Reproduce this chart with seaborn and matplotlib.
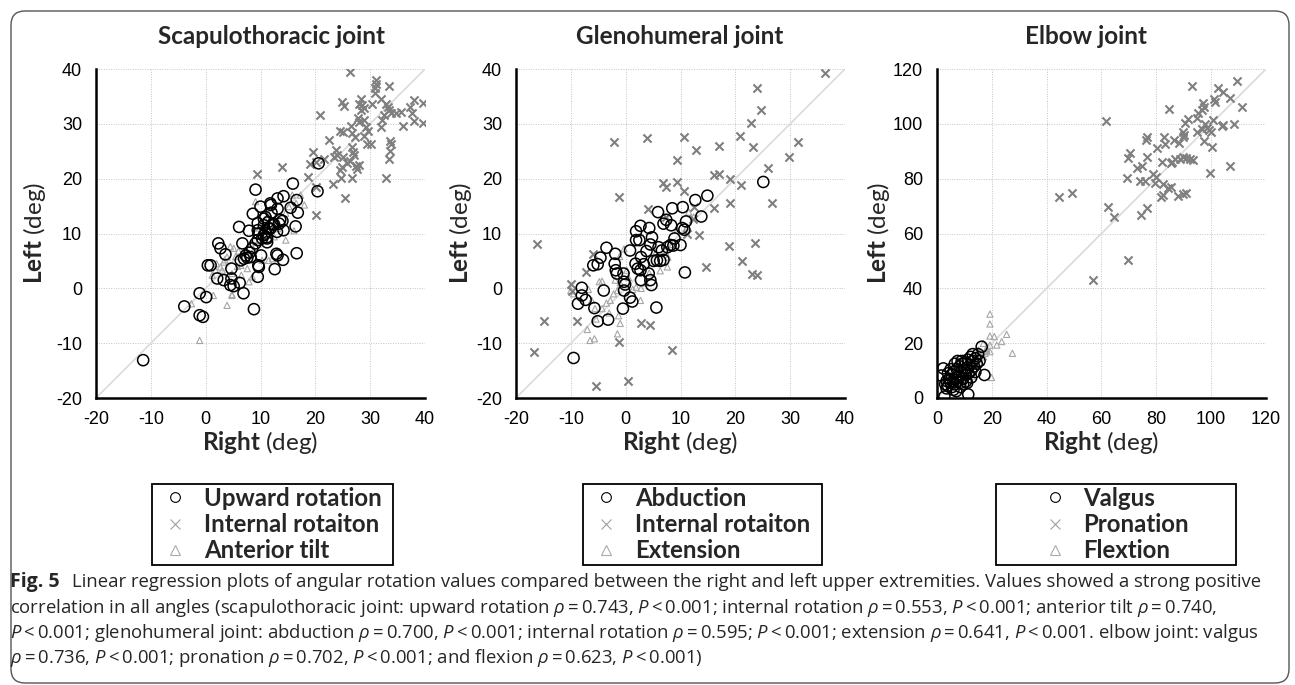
import matplotlib
matplotlib.use("Agg")
import matplotlib.pyplot as plt
import numpy as np
import seaborn as sns
from matplotlib.lines import Line2D
from matplotlib.patches import FancyBboxPatch, Rectangle
from matplotlib.transforms import IdentityTransform

# --- data (Right deg, Left deg) ---
SCAP_UPWARD = [
    (-11.4, -13.1), (-3.9, -3.3), (-1.1, -0.9), (0.1, -1.6), (-1.1, -4.9), (-0.5, -5.2),
    (0.4, 4.2), (0.9, 4.2), (2.3, 8.2), (2.7, 7.3), (3.6, 6.2), (2.1, 1.8), (3.3, 1.5),
    (4.7, 3.6), (4.7, 1.8), (4.5, 0.6), (5.1, 0.4), (6.2, 1.0), (6.9, -0.9), (8.8, -3.8),
    (6.1, 11.2), (6.7, 8.2), (7.9, 10.5), (6.4, 5.1), (7.0, 5.4), (7.6, 5.6), (8.2, 5.7),
    (8.5, 7.3), (9.1, 8.2), (9.5, 8.8), (8.6, 13.6), (9.1, 18.0), (9.6, 10.0), (9.5, 11.9),
    (9.6, 4.2), (9.5, 2.1), (9.7, 3.9), (10.0, 14.9), (10.6, 12.7), (10.9, 10.0), (11.1, 9.3),
    (11.2, 8.4), (10.3, 9.1), (11.5, 10.9), (11.9, 15.2), (12.0, 13.8), (12.5, 11.6),
    (13.1, 16.4), (13.1, 14.5), (13.6, 12.5), (14.0, 12.3), (14.2, 10.6), (14.2, 16.8),
    (12.9, 6.3), (12.6, 3.5), (14.1, 5.2), (13.1, 6.0), (15.9, 19.1), (15.5, 14.7),
    (16.6, 16.1), (16.8, 13.8), (16.4, 11.3), (16.6, 6.4), (20.4, 17.7), (20.6, 22.8),
    (10.9, 13.0), (11.4, 12.1), (11.8, 10.9), (11.2, 9.1), (10.1, 6.0), (11.8, 15.5),
    (13.4, 11.8), (13.0, 10.3), (10.6, 11.5), (9.5, 10.6), (10.6, 9.7), (12.2, 11.7),
    (8.0, 6.5), (7.3, 6.0),
]
SCAP_INTERNAL = [
    (26.3, 39.4), (31.0, 38.0), (31.1, 37.3), (30.8, 36.5), (30.9, 35.7), (33.5, 36.9),
    (28.3, 34.5), (28.0, 33.7), (28.6, 33.4), (28.9, 32.8), (28.3, 32.5), (30.4, 33.7),
    (31.9, 34.6), (32.8, 33.7), (33.2, 33.1), (33.5, 32.5), (33.8, 31.9), (34.7, 31.9),
    (35.6, 32.2), (37.2, 33.1), (38.0, 34.3), (39.7, 33.8), (37.7, 31.9), (38.0, 30.5),
    (39.6, 30.2), (35.9, 29.6), (32.5, 31.6), (32.2, 30.7), (31.9, 29.5), (24.9, 34.0),
    (25.2, 33.2), (20.8, 31.7), (28.9, 30.7), (29.3, 29.5), (29.6, 28.7), (28.0, 30.4),
    (27.7, 31.0), (24.5, 28.7), (25.0, 28.6), (26.5, 29.6), (26.6, 28.4), (27.3, 27.6),
    (28.9, 27.8), (29.4, 26.3), (30.1, 26.4), (33.6, 26.8), (33.8, 26.4), (33.6, 25.0),
    (33.5, 23.5), (32.9, 20.2), (22.5, 27.0), (23.7, 25.2), (24.0, 24.3), (23.4, 24.0),
    (25.1, 23.9), (26.6, 25.7), (26.8, 24.9), (27.1, 24.4), (24.8, 22.2), (24.5, 21.6),
    (25.7, 22.8), (26.3, 23.3), (27.4, 22.3), (28.0, 22.5), (27.6, 21.7), (26.6, 20.2),
    (24.6, 20.2), (23.2, 19.0), (25.5, 16.4), (19.6, 24.9), (19.0, 22.6), (18.7, 20.3),
    (21.5, 23.5), (20.1, 23.1), (14.0, 22.1), (9.4, 20.8), (20.2, 13.4), (20.2, 18.5),
]
SCAP_TILT = [
    (9.1, 15.8), (15.8, 17.0), (17.3, 17.0), (18.0, 15.2), (14.6, 8.8), (16.1, 10.5),
    (4.5, 7.6), (5.1, 7.3), (3.9, 5.7), (3.3, 4.8), (2.7, 3.9), (1.2, 2.4), (1.8, 3.3),
    (3.0, 3.3), (5.8, 4.0), (6.5, 2.4), (7.9, 1.2), (8.5, 2.1), (10.3, 5.1), (11.5, 5.1),
    (12.2, 5.4), (1.4, -1.3), (4.8, -1.3), (3.9, -3.1), (-2.6, -2.8), (8.2, 8.2), (8.8, 7.0),
    (9.7, 8.8), (12.5, 9.4), (13.1, 10.9), (14.6, 13.7), (15.2, 14.9), (6.4, 4.2), (7.6, 3.6),
    (4.8, 2.7), (7.3, 6.7), (-1.1, -9.5), (4.8, -1.1), (10.8, 12.5), (11.5, 13.5),
    (12.8, 13.0), (6.0, 6.8), (5.5, 5.8), (9.8, 11.0), (16.5, 15.5), (2.0, 4.5), (3.5, 5.2),
]

GLENO_ABDUCTION = [
    (-9.5, -12.7), (25.1, 19.4), (14.9, 16.9), (12.7, 16.1), (13.8, 13.1), (10.4, 14.8),
    (8.5, 14.6), (5.9, 13.9), (7.4, 12.5), (6.9, 11.8), (8.3, 11.5), (11.0, 12.2),
    (10.3, 11.0), (10.7, 10.7), (8.9, 9.1), (10.0, 7.9), (7.6, 7.5), (8.2, 7.9), (8.7, 7.8),
    (6.0, 7.5), (6.6, 6.9), (6.9, 5.2), (6.3, 5.0), (5.7, 5.1), (5.1, 5.0), (4.8, 9.3),
    (4.3, 11.0), (2.7, 11.4), (1.9, 10.4), (2.5, 8.8), (1.9, 8.8), (0.8, 6.9), (3.8, 6.8),
    (4.5, 8.0), (2.8, 5.7), (1.8, 4.5), (2.2, 3.6), (2.7, 3.3), (3.3, 4.4), (4.2, 2.7),
    (4.5, 1.5), (4.7, 0.6), (2.8, 1.5), (5.6, -3.5), (10.8, 2.9), (-3.5, 7.4), (-1.9, 6.3),
    (-4.6, 5.6), (-5.9, 4.2), (-5.1, 4.4), (-2.0, 4.5), (-1.8, 3.3), (-1.6, 2.7), (-0.4, 2.7),
    (-0.3, 1.2), (-0.1, 0.7), (-0.3, -0.4), (0.8, -1.7), (1.2, -2.4), (-0.5, -3.7),
    (-3.2, -5.7), (-5.1, -6.0), (-5.7, -3.6), (-4.0, -0.4), (-7.3, -2.1), (-8.0, -1.3),
    (-8.0, 0.1), (-8.7, -2.8),
]
GLENO_INTERNAL = [
    (36.4, 39.2), (23.9, 36.5), (24.6, 32.6), (22.8, 30.2), (20.8, 27.8), (23.2, 25.8),
    (31.5, 26.7), (29.7, 24.0), (26.0, 22.0), (26.6, 15.5), (-2.2, 26.7), (3.8, 27.5),
    (10.6, 27.6), (12.9, 25.3), (17.0, 26.0), (9.4, 23.4), (16.2, 20.6), (17.0, 20.8),
    (19.1, 19.9), (21.1, 18.9), (19.0, 15.6), (16.1, 14.7), (-1.3, 16.7), (6.8, 19.2),
    (7.3, 18.5), (9.4, 19.4), (10.6, 17.7), (4.1, 14.4), (12.4, 14.9), (13.4, 9.7),
    (11.1, 9.9), (18.8, 7.7), (23.6, 8.2), (21.3, 4.9), (23.0, 2.7), (24.0, 2.5), (14.6, 3.9),
    (-16.2, 8.0), (-14.9, -6.0), (-16.7, -11.6), (-8.9, -6.0), (-7.2, 3.0), (-5.9, 6.3),
    (-10.0, 0.7), (-9.7, -0.4), (2.8, -6.4), (4.4, -6.6), (-1.2, -9.8), (8.5, -11.2),
    (0.4, -16.9), (-5.4, -17.8), (7.3, 13.0), (12.2, 12.6),
]
GLENO_EXTENSION = [
    (-6.5, -9.5), (-5.7, -9.2), (-7.0, -7.5), (-1.5, -8.3), (-1.0, -6.4), (-1.3, -5.0),
    (-4.3, 1.3), (-4.8, 1.2), (-6.8, -0.2), (-6.2, -2.2), (-5.6, -3.7), (-4.3, -3.7),
    (-3.5, -2.7), (-2.8, -2.2), (-2.2, -1.0), (-1.5, -0.4), (-1.0, 1.0), (-1.9, 1.5),
    (0.2, 3.3), (1.3, -0.2), (1.9, 0.2), (2.8, 0.0), (3.7, 1.0), (4.3, 2.8), (-0.3, 7.2),
    (6.3, 3.2), (7.6, 3.9), (7.7, 5.7), (11.2, 11.2), (-5.4, -5.6), (-10.0, -0.4),
    (-9.5, -1.0), (11.5, 13.9), (12.4, 13.0), (9.4, 10.6), (2.7, -2.2), (-1.1, 5.8),
    (-3.0, -4.5), (0.5, 2.0), (5.5, 6.5), (8.5, 8.0),
]

ELBOW_VALGUS = [
    (3.0, 5.0), (3.5, 6.2), (4.0, 4.5), (4.5, 7.0), (5.0, 5.5), (5.2, 8.5), (5.5, 4.0),
    (6.0, 6.0), (6.2, 9.5), (6.5, 5.0), (7.0, 7.5), (7.2, 10.5), (7.5, 6.0), (8.0, 8.0),
    (8.2, 11.5), (8.5, 5.5), (9.0, 9.5), (9.2, 12.5), (9.5, 7.0), (10.0, 10.0), (10.2, 13.0),
    (10.5, 8.5), (11.0, 11.0), (11.2, 14.0), (11.5, 9.0), (12.0, 12.0), (12.3, 15.0),
    (12.5, 10.0), (13.0, 13.5), (13.5, 11.5), (14.0, 14.5), (14.5, 12.5), (15.0, 16.0),
    (15.5, 13.5), (16.3, 18.7), (17.3, 8.4), (11.4, 1.3), (2.7, 0.5), (1.5, 8.2), (2.3, 10.8),
    (6.0, 3.0), (7.0, 2.5), (8.5, 4.0), (9.5, 5.0), (10.5, 6.0), (4.0, 9.0), (5.0, 10.5),
    (6.5, 12.5), (7.5, 13.5), (3.5, 3.5), (9.0, 13.5), (11.0, 5.5), (12.5, 7.5), (14.0, 9.5),
    (13.0, 16.0),
]
ELBOW_PRONATION = [
    (44.6, 73.4), (49.3, 74.9), (56.8, 43.0), (69.5, 50.3), (61.6, 101.0), (62.2, 69.5),
    (64.7, 66.1), (93.1, 113.9), (109.5, 115.6), (111.4, 106.0), (102.6, 113.0),
    (104.4, 111.7), (106.9, 109.3), (101.0, 108.9), (101.4, 108.1), (97.1, 107.7),
    (97.4, 106.3), (96.5, 105.0), (95.1, 103.8), (94.7, 102.0), (91.7, 101.6), (90.4, 100.4),
    (84.6, 105.3), (100.8, 101.4), (97.7, 100.0), (98.3, 98.3), (96.5, 98.0), (94.7, 97.1),
    (99.3, 97.7), (99.9, 97.1), (104.4, 99.6), (103.8, 99.3), (108.4, 99.9), (97.4, 93.7),
    (100.4, 91.7), (106.9, 84.7), (99.6, 82.2), (89.8, 97.1), (90.2, 96.0), (89.8, 95.3),
    (88.3, 93.1), (86.4, 94.1), (82.9, 95.3), (83.1, 92.6), (80.3, 91.1), (76.5, 95.3),
    (76.1, 94.1), (70.4, 89.5), (69.8, 87.7), (76.5, 88.0), (81.9, 86.2), (85.6, 86.2),
    (86.8, 87.0), (88.6, 87.0), (89.8, 87.8), (91.0, 87.4), (92.3, 87.0), (93.2, 86.8),
    (85.2, 85.6), (73.1, 83.8), (74.6, 84.6), (69.2, 80.4), (74.0, 79.1), (75.9, 79.3),
    (78.9, 81.7), (79.9, 80.5), (79.5, 78.5), (82.5, 78.0), (84.1, 76.5), (85.2, 76.8),
    (81.7, 73.2), (82.5, 74.0), (87.8, 73.7), (89.8, 74.4), (90.8, 74.7), (76.7, 69.2),
    (74.3, 66.7),
]
ELBOW_FLEXION = [
    (19.3, 30.6), (19.3, 27.0), (19.3, 22.6), (20.9, 22.4), (25.4, 23.2), (23.6, 20.6),
    (21.8, 19.3), (19.3, 19.3), (27.5, 16.3), (19.9, 7.5), (16.9, 19.9), (15.1, 17.5),
    (18.1, 17.5), (19.3, 16.9), (17.5, 16.3), (10.0, 13.0), (12.0, 14.0), (13.0, 12.0),
    (14.0, 15.0), (15.0, 14.0), (16.0, 16.0), (17.0, 15.0), (18.0, 17.0), (11.0, 9.0),
    (12.0, 11.0), (8.0, 9.0), (9.0, 10.0), (10.0, 7.0), (14.0, 12.0), (16.0, 13.0),
    (18.0, 18.0), (15.0, 17.0), (13.0, 8.0),
]

TITLES = ["Scapulothoracic joint", "Glenohumeral joint", "Elbow joint"]
LEGEND_LABELS = [
    ["Upward rotation", "Internal rotaiton", "Anterior tilt"],
    ["Abduction", "Internal rotaiton", "Extension"],
    ["Valgus", "Pronation", "Flextion"],
]
AXIS_RANGES = [(-20, 40, 10), (-20, 40, 10), (0, 120, 20)]

CAPTION_LINES = [
    "Linear regression plots of angular rotation values compared between the right and left upper extremities. Values showed a strong positive",
    "correlation in all angles (scapulothoracic joint: upward rotation $\\rho$\u2009=\u20090.743, $P$\u2009<\u20090.001; internal rotation $\\rho$\u2009=\u20090.553, $P$\u2009<\u20090.001; anterior tilt $\\rho$\u2009=\u20090.740,",
    "$P$\u2009<\u20090.001; glenohumeral joint: abduction $\\rho$\u2009=\u20090.700, $P$\u2009<\u20090.001; internal rotation $\\rho$\u2009=\u20090.595; $P$\u2009<\u20090.001; extension $\\rho$\u2009=\u20090.641, $P$\u2009<\u20090.001. elbow joint: valgus",
    "$\\rho$\u2009=\u20090.736, $P$\u2009<\u20090.001; pronation $\\rho$\u2009=\u20090.702, $P$\u2009<\u20090.001; and flexion $\\rho$\u2009=\u20090.623, $P$\u2009<\u20090.001)",
]

W, H = 1295, 685
CIRCLE_C, CROSS_C, TRI_C = "black", "#7f7f7f", "#a6a6a6"
LABEL_SIZE = 17.5
CAPTION_SIZE = 13.3


def px_box(left, top, w, h):
    return [left / W, 1 - (top + h) / H, w / W, h / H]


def draw_panel(ax, circles, crosses, triangles, rng):
    lo, hi, step = rng
    ax.axline((0, 0), slope=1, color="#dadada", linewidth=1.2, zorder=1)
    tx, ty = zip(*triangles)
    sns.scatterplot(x=list(tx), y=list(ty), ax=ax, marker="^", s=20, facecolor="none",
                    edgecolor=TRI_C, linewidth=0.8, zorder=2)
    xx, xy = zip(*crosses)
    sns.scatterplot(x=list(xx), y=list(xy), ax=ax, marker="x", s=34, color=CROSS_C,
                    linewidth=1.5, zorder=3)
    cx, cy = zip(*circles)
    sns.scatterplot(x=list(cx), y=list(cy), ax=ax, marker="o", s=64, facecolor="none",
                    edgecolor=CIRCLE_C, linewidth=1.1, zorder=4)
    ticks = np.arange(lo, hi + step, step)
    ax.set_xlim(lo, hi)
    ax.set_ylim(lo, hi)
    ax.set_xticks(ticks)
    ax.set_yticks(ticks)
    ax.grid(True, color="#c4c4c4", linestyle=(0, (1, 1.5)), linewidth=0.7)
    ax.set_axisbelow(True)
    ax.tick_params(length=0, labelsize=13, colors="black")
    ax.tick_params(axis="y", pad=10)
    ax.tick_params(axis="x", pad=9)
    for side in ["top", "right"]:
        ax.spines[side].set_visible(False)
    for side in ["left", "bottom"]:
        ax.spines[side].set_color("black")
        ax.spines[side].set_linewidth(1.8)
    ax.set_xlabel("")
    ax.set_ylabel("")


def main():
    sns.set_style("white")
    plt.rcParams["font.family"] = ["Liberation Sans", "DejaVu Sans"]
    plt.rcParams["axes.unicode_minus"] = False
    plt.rcParams["mathtext.fontset"] = "custom"
    plt.rcParams["mathtext.rm"] = "Open Sans"
    plt.rcParams["mathtext.it"] = "Open Sans:italic"
    plt.rcParams["mathtext.bf"] = "Lato:bold"

    fig = plt.figure(figsize=(W / 100, H / 100), dpi=100)

    panels = [
        (SCAP_UPWARD, SCAP_INTERNAL, SCAP_TILT),
        (GLENO_ABDUCTION, GLENO_INTERNAL, GLENO_EXTENSION),
        (ELBOW_VALGUS, ELBOW_PRONATION, ELBOW_FLEXION),
    ]
    axes_left = [96, 516, 937]
    title_x = [272, 680, 1086]
    ylabel_x = [35, 460, 879]
    legend_box = [(152, 393), (583, 822), (996, 1236)]

    for i, (circ, cross, tri) in enumerate(panels):
        left = axes_left[i]
        ax = fig.add_axes(px_box(left, 69, 329, 329))
        draw_panel(ax, circ, cross, tri, AXIS_RANGES[i])

        fig.text(title_x[i] / W, 1 - 37 / H, TITLES[i], ha="center", va="center",
                 fontsize=17.5, fontweight="bold", family="Lato")
        fig.text((left + 164.5) / W, 1 - 443 / H, r"$\mathbf{Right}$ (deg)", ha="center",
                 va="center", fontsize=LABEL_SIZE, family="Lato")
        fig.text(ylabel_x[i] / W, 1 - 233 / H, r"$\mathbf{Left}$ (deg)", ha="center",
                 va="center", rotation=90, fontsize=LABEL_SIZE, family="Lato")

        # legend box (fixed width) with centred entries
        bx0, bx1 = legend_box[i]
        fig.add_artist(Rectangle((bx0 / W, 1 - 565 / H), (bx1 - bx0) / W, 81 / H,
                                 transform=fig.transFigure, fill=False,
                                 edgecolor="black", linewidth=1.3))
        handles = [
            Line2D([], [], linestyle="none", marker="o", markersize=7, markerfacecolor="none",
                   markeredgecolor="black", markeredgewidth=0.8),
            Line2D([], [], linestyle="none", marker="x", markersize=7, color="#a0a0a0",
                   markeredgewidth=0.8),
            Line2D([], [], linestyle="none", marker="^", markersize=7, markerfacecolor="none",
                   markeredgecolor="#aaaaaa", markeredgewidth=0.8),
        ]
        fig.legend(handles, LEGEND_LABELS[i], loc="center",
                   bbox_to_anchor=((bx0 + bx1) / 2 / W, 1 - 524.5 / H), frameon=False,
                   prop={"family": "Lato", "weight": "bold", "size": 17.3},
                   handlelength=1.0, handletextpad=0.7, labelspacing=0.13, borderpad=0.0)

    # caption
    line_y = [582, 608, 633, 658]
    fig.text(10 / W, 1 - line_y[0] / H, "Fig. 5", ha="left", va="center",
             fontsize=CAPTION_SIZE + 0.7, fontweight="bold", family="Open Sans")
    fig.text(72 / W, 1 - line_y[0] / H, CAPTION_LINES[0], ha="left", va="center",
             fontsize=CAPTION_SIZE, family="Open Sans")
    for k in range(1, 4):
        fig.text(10 / W, 1 - line_y[k] / H, CAPTION_LINES[k], ha="left", va="center",
                 fontsize=CAPTION_SIZE, family="Open Sans")

    # rounded outer frame
    fig.add_artist(FancyBboxPatch((11, 685 - 683), 1278, 672,
                                  boxstyle="round,pad=0,rounding_size=14",
                                  transform=IdentityTransform(), fill=False,
                                  edgecolor="#555555", linewidth=1.0))

    fig.savefig("out.png", dpi=100)
    plt.close(fig)


if __name__ == "__main__":
    main()
